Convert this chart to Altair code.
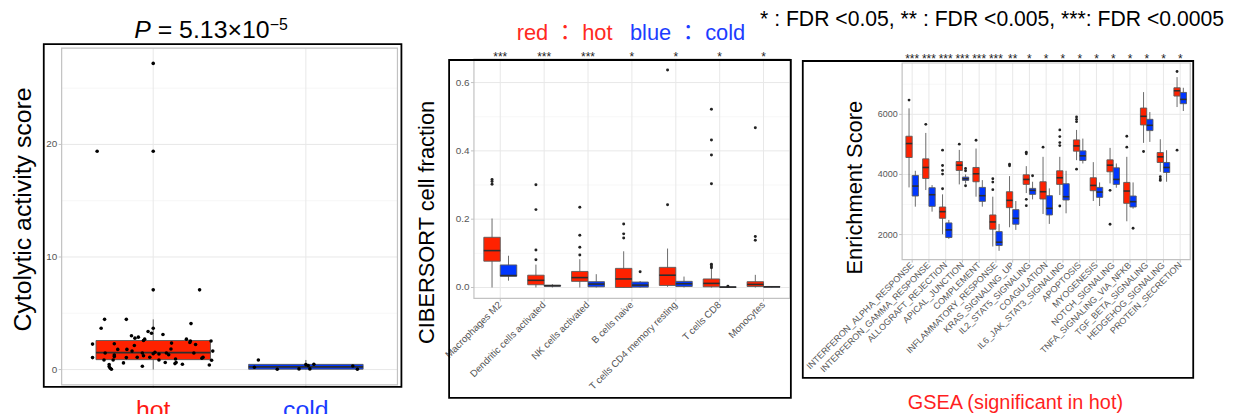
import altair as alt
import pandas as pd

FONT = "Liberation Sans"
CJK_FONT = "Liberation Sans, Noto Sans CJK JP"
RED = "#FF2200"
BLUE = "#0037FF"
TXT_RED = "#FF2A1F"
TXT_BLUE = "#1D3DFF"
EDGE = "#5a5a5a"
MED = "#2e2e2e"
GRID_MAJ = "#e8e8e8"
GRID_MIN = "#f3f3f3"
BORDER = "#c2c2c2"
TICKLAB = "#555555"
W, H = 1227, 406

# ---------------- Panel 1: cytolytic activity ----------------
p1_groups = ["hot", "cold"]
p1_q1 = [0.88, 0.03]
p1_med = [1.50, 0.24]
p1_q3 = [2.58, 0.46]
p1_lo = [0.0, 0.0]
p1_hi = [4.46, 0.85]
hot_y = [27.2, 19.4, 19.4, 7.08, 7.08, 4.46, 4.46, 3.67, 4.08, 3.67, 3.38, 3.23, 3.11, 3.0,
         2.79, 2.88, 2.58, 2.70, 2.70, 2.53, 2.41, 2.53, 2.23, 2.35, 2.29, 2.26, 2.14, 1.79,
         1.79, 1.64, 1.82, 1.64, 1.47, 1.47, 1.47, 1.53, 1.41, 1.38, 1.47, 1.32, 1.29, 1.23,
         1.15, 1.06, 1.06, 1.09, 1.09, 1.0, 1.09, 0.85, 0.85, 0.94, 0.85, 0.82, 0.62, 0.53,
         0.62, 0.59, 0.47, 0.44, 0.41, 0.29, 0.26, 0.12, 0.03]
hot_dx = [0, -0.98, 0, 0, 0.81, -0.85, -0.47, -0.91, 0.66, 0, -0.09, -0.03, 0.17, -0.38,
          -0.32, -0.26, -0.17, -0.15, 0.58, 0.65, 0.64, 1.01, 0.74, 0.32, -0.68, -1.06, -0.33,
          -0.62, -0.46, -0.37, 0.31, 1.04, 0.71, -0.84, -0.19, 0.03, 0, 0.10, 0.23, 0.27, -0.68,
          -0.17, -0.68, -1.06, -0.47, -0.28, -0.06, 0.85, 0.87, -0.86, 0.10, 0.39, -0.70, 1.02,
          0.40, 0.38, 0.21, -0.52, 0.51, -0.77, 0.98, -0.19, -0.77, -0.75, -0.73]
cold_y = [0.85, 0.21, 0.03, 0.06, 0.44, 0.35, 0.47, 0.06, 0.32, 0.03]
cold_dx = [-0.83, -0.90, -0.50, -0.12, 0, 0.04, 0.14, 0.07, 0.82, 0.90]
p1_yticks = [0, 10, 20]
p1_ylabels = ["0", "10", "20"]
p1_yminor = [5, 15, 25]

# ---------------- Panel 2: CIBERSORT ----------------
cells = ["Macrophages M2", "Dendritic cells activated", "NK cells activated", "B cells naive",
         "T cells CD4 memory resting", "T cells CD8", "Monocytes"]
cell_stars = ["***", "***", "***", "*", "*", "*", "*"]
c_hot_q1 = [0.077, 0.008, 0.018, 0.0, 0.006, 0.002, 0.003]
c_hot_med = [0.108, 0.021, 0.029, 0.025, 0.036, 0.012, 0.009]
c_hot_q3 = [0.147, 0.036, 0.047, 0.056, 0.059, 0.025, 0.017]
c_hot_lo = [0.0, 0.0, 0.0, 0.0, 0.002, 0.0, 0.0]
c_hot_hi = [0.202, 0.067, 0.083, 0.106, 0.114, 0.054, 0.037]
c_cold_q1 = [0.033, 0.004, 0.002, 0.001, 0.003, 0.0005, 0.001]
c_cold_med = [0.035, 0.005, 0.010, 0.007, 0.011, 0.001, 0.002]
c_cold_q3 = [0.066, 0.007, 0.017, 0.016, 0.018, 0.002, 0.003]
c_cold_lo = [0.020, 0.0, 0.0, 0.0, 0.0, 0.0, 0.0]
c_cold_hi = [0.093, 0.010, 0.039, 0.019, 0.032, 0.003, 0.004]
c_hot_out_cat = [1, 1, 1, 2, 2, 2, 2, 3, 3, 3, 3, 4, 4, 4, 5, 5, 6, 6, 6, 6, 6, 6, 6, 7, 7, 7]
c_hot_out_val = [0.316, 0.310, 0.302, 0.301, 0.228, 0.110, 0.081, 0.235, 0.153, 0.118, 0.095,
                 0.186, 0.157, 0.145, 0.637, 0.242, 0.522, 0.432, 0.388, 0.304, 0.068, 0.063,
                 0.058, 0.468, 0.149, 0.138]
c_cold_out_cat = [4, 6]
c_cold_out_val = [0.046, 0.004]
p2_yticks = [0.0, 0.2, 0.4, 0.6]
p2_ylabels = ["0.0", "0.2", "0.4", "0.6"]
p2_yminor = [0.1, 0.3, 0.5]

# ---------------- Panel 3: GSEA ----------------
gsets = ["INTERFERON_ALPHA_RESPONSE", "INTERFERON_GAMMA_RESPONSE", "ALLOGRAFT_REJECTION",
         "APICAL_JUNCTION", "COMPLEMENT", "INFLAMMATORY_RESPONSE", "KRAS_SIGNALING_UP",
         "IL2_STAT5_SIGNALING", "COAGULATION", "IL6_JAK_STAT3_SIGNALING", "APOPTOSIS",
         "MYOGENESIS", "NOTCH_SIGNALING", "TNFA_SIGNALING_VIA_NFKB", "TGF_BETA_SIGNALING",
         "HEDGEHOG_SIGNALING", "PROTEIN_SECRETION"]
g_stars = ["***", "***", "***", "***", "***", "***", "**", "*", "*", "*", "*", "*", "*", "*",
           "*", "*", "*"]
g_hot_q1 = [4564, 3867, 2541, 4133, 3757, 2177, 2895, 3669, 3182, 3669, 4774, 3459, 4088, 3039, 5647, 4398, 6608]
g_hot_med = [5028, 4232, 2762, 4309, 4022, 2420, 3138, 3834, 3425, 3890, 4950, 3635, 4309, 3448, 5934, 4586, 6785]
g_hot_q3 = [5271, 4519, 2917, 4431, 4232, 2652, 3425, 3989, 3757, 4122, 5149, 3890, 4486, 3735, 6210, 4729, 6884]
g_hot_lo = [3569, 3481, 2011, 3669, 3260, 1602, 2243, 3381, 2685, 3315, 4475, 3116, 3702, 2442, 5050, 4088, 6243]
g_hot_hi = [6199, 5381, 3337, 4818, 4862, 3260, 3945, 4276, 4586, 4586, 5481, 4409, 4884, 4586, 6740, 5171, 7238]
g_cold_q1 = [3282, 2939, 1901, 3801, 3105, 1635, 2343, 3337, 2652, 3149, 4464, 3238, 3669, 2917, 5459, 4066, 6354]
g_cold_med = [3613, 3326, 2155, 3856, 3293, 1746, 2541, 3470, 2873, 3260, 4619, 3414, 3834, 3094, 5635, 4232, 6497]
g_cold_q3 = [3967, 3558, 2387, 3912, 3569, 2099, 2829, 3536, 3293, 3691, 4785, 3569, 4221, 3282, 5834, 4398, 6729]
g_cold_lo = [2928, 2762, 1856, 3700, 2928, 1459, 2155, 3171, 2354, 2707, 4365, 2950, 3558, 2862, 5083, 3757, 6111]
g_cold_hi = [4122, 3646, 2486, 4000, 3812, 2354, 3116, 3757, 3536, 4122, 5193, 3735, 4365, 3735, 6077, 4807, 6884]
g_hot_out_cat = [1, 2, 3, 3, 3, 3, 3, 4, 5, 6, 6, 6, 7, 7, 8, 8, 8, 8, 9, 10, 10, 10, 10, 10,
                 11, 11, 11, 11, 13, 13, 14, 14, 15, 16, 16, 16, 17, 17]
g_hot_out_val = [6475, 5669, 4807, 4298, 4133, 4011, 3525, 5006, 5138, 3856, 3746, 3492, 4343,
                 4287, 4740, 4685, 3171, 2961, 4906, 5481, 5260, 5061, 4962, 2950, 5912, 5834,
                 5757, 4177, 3470, 2343, 5271, 4906, 4763, 3923, 3845, 3801, 7426, 4807]
g_cold_out_cat = [4, 4, 4, 8, 14]
g_cold_out_val = [4199, 4122, 3624, 3956, 2210]
p3_yticks = [2000, 4000, 6000]
p3_ylabels = ["2000", "4000", "6000"]
p3_yminor = [3000, 5000, 7000]

# ---------------- helpers ----------------
ONE = pd.DataFrame({"k": [0]})
FILL = alt.Scale(domain=["hot", "cold"], range=[RED, BLUE])


def scale(dom, rng):
    return alt.Scale(domain=dom, range=rng, nice=False, zero=False)


def Xq(f, s):
    return alt.X(f, type="quantitative", scale=s, axis=None)


def Yq(f, s):
    return alt.Y(f, type="quantitative", scale=s, axis=None)


def frame(x0, y0, x1, y1):
    return alt.Chart(ONE).mark_rect(fillOpacity=0, stroke="black", strokeWidth=1.8).encode(
        x=alt.value(x0), x2=alt.value(x1), y=alt.value(y0), y2=alt.value(y1))


def background(xs, ys, xdom, ydom, xgrid, ymaj, ymin):
    out = []
    dmin = pd.DataFrame({"v": ymin, "a": [xdom[0]] * len(ymin), "b": [xdom[1]] * len(ymin)})
    out.append(alt.Chart(dmin).mark_rule(color=GRID_MIN, strokeWidth=0.7).encode(
        x=Xq("a", xs), x2="b", y=Yq("v", ys)))
    dmaj = pd.DataFrame({"v": ymaj, "a": [xdom[0]] * len(ymaj), "b": [xdom[1]] * len(ymaj)})
    out.append(alt.Chart(dmaj).mark_rule(color=GRID_MAJ, strokeWidth=1).encode(
        x=Xq("a", xs), x2="b", y=Yq("v", ys)))
    dv = pd.DataFrame({"v": xgrid, "a": [ydom[0]] * len(xgrid), "b": [ydom[1]] * len(xgrid)})
    out.append(alt.Chart(dv).mark_rule(color=GRID_MAJ, strokeWidth=1).encode(
        x=Xq("v", xs), y=Yq("a", ys), y2="b"))
    db = pd.DataFrame({"x0": [xdom[0]], "x1": [xdom[1]], "y0": [ydom[0]], "y1": [ydom[1]]})
    out.append(alt.Chart(db).mark_rect(fillOpacity=0, stroke=BORDER, strokeWidth=1.2).encode(
        x=Xq("x0", xs), x2="x1", y=Yq("y0", ys), y2="y1"))
    return out


def yaxis(ys, vals, labels, left, size):
    d = pd.DataFrame({"v": vals, "t": labels})
    ticks = alt.Chart(d).mark_rule(color=BORDER, strokeWidth=1).encode(
        x=alt.value(left - 3), x2=alt.value(left), y=Yq("v", ys))
    labs = alt.Chart(d).mark_text(align="right", baseline="middle", font=FONT, fontSize=size,
                                  color=TICKLAB).encode(
        x=alt.value(left - 4.5), y=Yq("v", ys), text="t:N")
    return [ticks, labs]


def xticks(xs, cats, bottom):
    d = pd.DataFrame({"c": cats})
    return alt.Chart(d).mark_rule(color=BORDER, strokeWidth=1).encode(
        x=Xq("c", xs), y=alt.value(bottom), y2=alt.value(bottom + 3))


def boxplot(d, xs, ys, hw):
    d = d.assign(xl=d["xc"] - hw, xr=d["xc"] + hw)
    whisk = alt.Chart(d).mark_rule(color=EDGE, strokeWidth=0.9).encode(
        x=Xq("xc", xs), y=Yq("lo", ys), y2="hi")
    box = alt.Chart(d).mark_rect(stroke=EDGE, strokeWidth=0.9).encode(
        x=Xq("xl", xs), x2="xr", y=Yq("q1", ys), y2="q3",
        fill=alt.Fill("grp:N", scale=FILL, legend=None))
    med = alt.Chart(d).mark_rule(color=MED, strokeWidth=1.6).encode(
        x=Xq("xl", xs), x2="xr", y=Yq("med", ys))
    return [whisk, box, med]


def text(t, x, y, size, color="black", align="left", angle=0, style="normal", font=FONT):
    return alt.Chart(ONE).mark_text(text=t, align=align, baseline="alphabetic", font=font,
                                    fontSize=size, color=color, angle=angle,
                                    fontStyle=style).encode(x=alt.value(x), y=alt.value(y))


layers = []

# ================= Panel 1 =================
x1dom, y1dom = [0.4, 2.6], [-1.36, 28.56]
xs1, ys1 = scale(x1dom, [54, 392]), scale(y1dom, [378, 39])
layers += background(xs1, ys1, x1dom, y1dom, [1, 2], p1_yticks, p1_yminor)
layers += yaxis(ys1, p1_yticks, p1_ylabels, 54, 10)
layers.append(xticks(xs1, [1, 2], 378))
b1 = pd.DataFrame({"xc": [1, 2], "q1": p1_q1, "med": p1_med, "q3": p1_q3, "lo": p1_lo,
                   "hi": p1_hi, "grp": p1_groups})
layers += boxplot(b1, xs1, ys1, 0.375)
pts1 = pd.DataFrame({
    "x": [1 + d * 0.375 for d in hot_dx] + [2 + d * 0.375 for d in cold_dx],
    "y": hot_y + cold_y})
layers.append(alt.Chart(pts1).mark_circle(size=13, color="black", opacity=1).encode(
    x=Xq("x", xs1), y=Yq("y", ys1)))
lab1 = pd.DataFrame({"c": [1, 2], "t": p1_groups, "col": ["#FF1A14", "#1A3CFF"]})
layers.append(alt.Chart(lab1).mark_text(align="center", baseline="alphabetic", font=FONT,
                                        fontSize=25).encode(
    x=Xq("c", xs1), y=alt.value(411), text="t:N", color=alt.Color("col:N", scale=None)))
layers.append(frame(36, 35, 396, 380))
layers.append(text("P", 127, 28.5, 25, style="italic"))
layers.append(text("= 5.13×10", 150.7, 28.5, 25))
layers.append(text("−5", 263.5, 21.3, 16))
layers.append(text("Cytolytic activity score", 23, 201.5, 25, align="center", angle=270))

# ================= Panel 2 =================
x2dom, y2dom = [0.4, 7.6], [-0.032, 0.669]
xs2, ys2 = scale(x2dom, [469, 787]), scale(y2dom, [291, 50])
cats2 = list(range(1, len(cells) + 1))
layers += background(xs2, ys2, x2dom, y2dom, cats2, p2_yticks, p2_yminor)
layers += yaxis(ys2, p2_yticks, p2_ylabels, 469, 10)
layers.append(xticks(xs2, cats2, 291))
b2 = pd.DataFrame({
    "xc": [c - 0.1875 for c in cats2] + [c + 0.1875 for c in cats2],
    "q1": c_hot_q1 + c_cold_q1, "med": c_hot_med + c_cold_med, "q3": c_hot_q3 + c_cold_q3,
    "lo": c_hot_lo + c_cold_lo, "hi": c_hot_hi + c_cold_hi,
    "grp": ["hot"] * 7 + ["cold"] * 7})
layers += boxplot(b2, xs2, ys2, 0.1875)
o2 = pd.DataFrame({
    "x": [c - 0.1875 for c in c_hot_out_cat] + [c + 0.1875 for c in c_cold_out_cat],
    "y": c_hot_out_val + c_cold_out_val})
layers.append(alt.Chart(o2).mark_circle(size=9, color="#222222", opacity=1).encode(
    x=Xq("x", xs2), y=Yq("y", ys2)))
l2 = pd.DataFrame({"c": cats2, "t": cells, "s": cell_stars})
layers.append(alt.Chart(l2).mark_text(angle=315, align="right", baseline="middle", font=FONT,
                                      fontSize=9.8, color=TICKLAB).encode(
    x=Xq("c", xs2), y=alt.value(296), text="t:N"))
layers.append(alt.Chart(l2).mark_text(align="center", baseline="alphabetic", font=FONT,
                                      fontSize=12, color="#222222").encode(
    x=Xq("c", xs2), y=alt.value(51.7), text="s:N"))
layers.append(frame(444, 51, 788, 391))
layers.append(text("CIBERSORT cell fraction", 428.5, 214.5, 22, align="center", angle=270))
layers.append(text("red ： hot", 512, 31.3, 22, color=TXT_RED, font=CJK_FONT))
layers.append(text("blue ： cold", 626, 31.3, 22, color=TXT_BLUE, font=CJK_FONT))

# ================= Panel 3 =================
x3dom, y3dom = [0.4, 17.6], [1164, 7709]
xs3, ys3 = scale(x3dom, [900, 1190]), scale(y3dom, [252, 54])
cats3 = list(range(1, len(gsets) + 1))
layers += background(xs3, ys3, x3dom, y3dom, cats3, p3_yticks, p3_yminor)
layers += yaxis(ys3, p3_yticks, p3_ylabels, 900, 9)
layers.append(xticks(xs3, cats3, 252))
n3 = len(gsets)
b3 = pd.DataFrame({
    "xc": [c - 0.1875 for c in cats3] + [c + 0.1875 for c in cats3],
    "q1": g_hot_q1 + g_cold_q1, "med": g_hot_med + g_cold_med, "q3": g_hot_q3 + g_cold_q3,
    "lo": g_hot_lo + g_cold_lo, "hi": g_hot_hi + g_cold_hi,
    "grp": ["hot"] * n3 + ["cold"] * n3})
layers += boxplot(b3, xs3, ys3, 0.1875)
o3 = pd.DataFrame({
    "x": [c - 0.1875 for c in g_hot_out_cat] + [c + 0.1875 for c in g_cold_out_cat],
    "y": g_hot_out_val + g_cold_out_val})
layers.append(alt.Chart(o3).mark_circle(size=8, color="#222222", opacity=1).encode(
    x=Xq("x", xs3), y=Yq("y", ys3)))
l3 = pd.DataFrame({"c": cats3, "t": gsets, "s": g_stars})
layers.append(alt.Chart(l3).mark_text(angle=315, align="right", baseline="middle", font=FONT,
                                      fontSize=9, color=TICKLAB).encode(
    x=Xq("c", xs3), y=alt.value(256), text="t:N"))
layers.append(alt.Chart(l3).mark_text(align="center", baseline="alphabetic", font=FONT,
                                      fontSize=12, color="#222222").encode(
    x=Xq("c", xs3), y=alt.value(54), text="s:N"))
layers.append(frame(800, 52, 1193, 371))
layers.append(text("Enrichment Score", 860, 179.5, 22, align="center", angle=270))
layers.append(text("GSEA (significant in hot)", 1014, 402, 20, color="#FF1F1F", align="center"))

# header
layers.append(text("* : FDR <0.05, ** : FDR <0.005, ***: FDR <0.0005", 757, 17, 21.3))

chart = alt.layer(*layers).resolve_scale(x="independent", y="independent").properties(
    width=W, height=H, autosize=alt.AutoSizeParams(type="none"), padding=0,
    background="white").configure_view(strokeWidth=0)

chart.save("out.html", embed_options={"renderer": "svg", "actions": False})
